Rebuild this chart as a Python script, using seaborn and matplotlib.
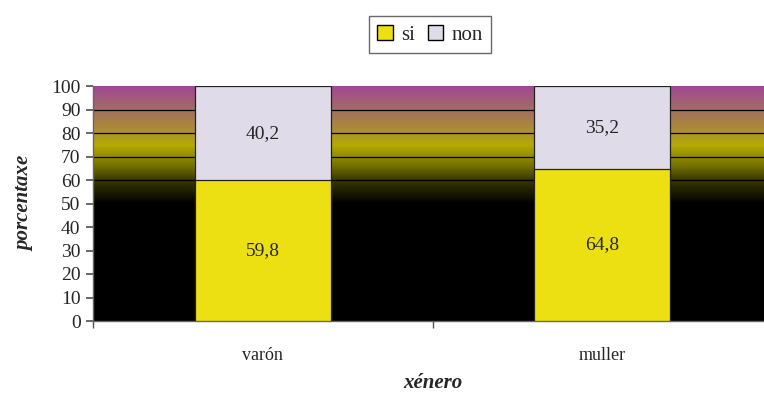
import numpy as np
import pandas as pd
import seaborn as sns
from matplotlib import pyplot as plt
from matplotlib.colors import LinearSegmentedColormap
from matplotlib.patches import Patch

sns.set_theme(style='white')
plt.rcParams['font.family'] = ['Liberation Serif', 'DejaVu Serif']

generos = ['varón', 'muller']
si = [59.8, 64.8]
non = [40.2, 35.2]
si_lab = ['59,8', '64,8']
non_lab = ['40,2', '35,2']

col_si = '#ece012'
col_non = '#e0dbe9'

df = pd.DataFrame({'xenero': generos, 'si': si, 'non': non})
df['total'] = df['si'] + df['non']

fig = plt.figure(figsize=(7.64, 3.94), dpi=100)
ax = fig.add_axes([93 / 764, 1 - 321 / 394, 679 / 764, 235 / 394])

# background gradient (bottom -> top)
stops = [(0.0, (0, 0, 0)), (0.5, (0, 0, 0)), (0.6, (0.22, 0.22, 0.0)),
         (0.66, (0.45, 0.44, 0.0)), (0.75, (0.71, 0.67, 0.0)),
         (0.8, (0.68, 0.58, 0.18)), (0.9, (0.64, 0.43, 0.38)),
         (1.0, (0.63, 0.28, 0.58))]
cmap = LinearSegmentedColormap.from_list('fondo', stops)
grad = np.linspace(0, 1, 400).reshape(-1, 1)
ax.imshow(grad, cmap=cmap, origin='lower', aspect='auto',
          extent=[-0.5, 1.5, 0, 100], zorder=0)

for y in range(10, 100, 10):
    ax.axhline(y, color='black', lw=0.9, zorder=1)

sns.barplot(data=df, x='xenero', y='total', color=col_non, width=0.4,
            saturation=1, edgecolor='#222222', linewidth=0.9, ax=ax, zorder=2)
sns.barplot(data=df, x='xenero', y='si', color=col_si, width=0.4,
            saturation=1, edgecolor='#222222', linewidth=0.9, ax=ax, zorder=3)

for i, (s, n) in enumerate(zip(si, non)):
    ax.text(i, s / 2, si_lab[i], ha='center', va='center', fontsize=14, zorder=4)
    ax.text(i, s + n / 2, non_lab[i], ha='center', va='center', fontsize=14, zorder=4)

ax.set_xlim(-0.5, 1.5)
ax.set_ylim(0, 100)
ax.set_yticks(range(0, 101, 10))
ax.set_xticks([0, 1])
ax.set_xticklabels(generos)
ax.set_xticks([-0.5, 0.5, 1.5], minor=True)
ax.tick_params(axis='x', which='major', length=0, pad=19, labelsize=13)
ax.tick_params(axis='x', which='minor', length=5, direction='out', color='#555555', bottom=True)
ax.tick_params(axis='y', length=5, direction='out', color='#555555', left=True, labelsize=14, pad=4)
ax.set_xlabel('xénero', fontsize=15, fontweight='bold', style='italic', labelpad=6)
ax.set_ylabel('porcentaxe', fontsize=15, fontweight='bold', style='italic', labelpad=12)

for side in ['top', 'right']:
    ax.spines[side].set_visible(False)
for side in ['left', 'bottom']:
    ax.spines[side].set_color('#666666')
    ax.spines[side].set_linewidth(1)

handles = [Patch(facecolor=col_si, edgecolor='black', label='si'),
           Patch(facecolor=col_non, edgecolor='black', label='non')]
leg = fig.legend(handles=handles, loc='upper center', bbox_to_anchor=(0.563, 0.985),
                 ncol=2, frameon=True, fancybox=False, fontsize=15,
                 handlelength=0.75, handleheight=0.75, handletextpad=0.4,
                 columnspacing=0.6, borderpad=0.4)
leg.get_frame().set_edgecolor('#444444')
leg.get_frame().set_linewidth(1)

fig.savefig('out.png', dpi=100)
